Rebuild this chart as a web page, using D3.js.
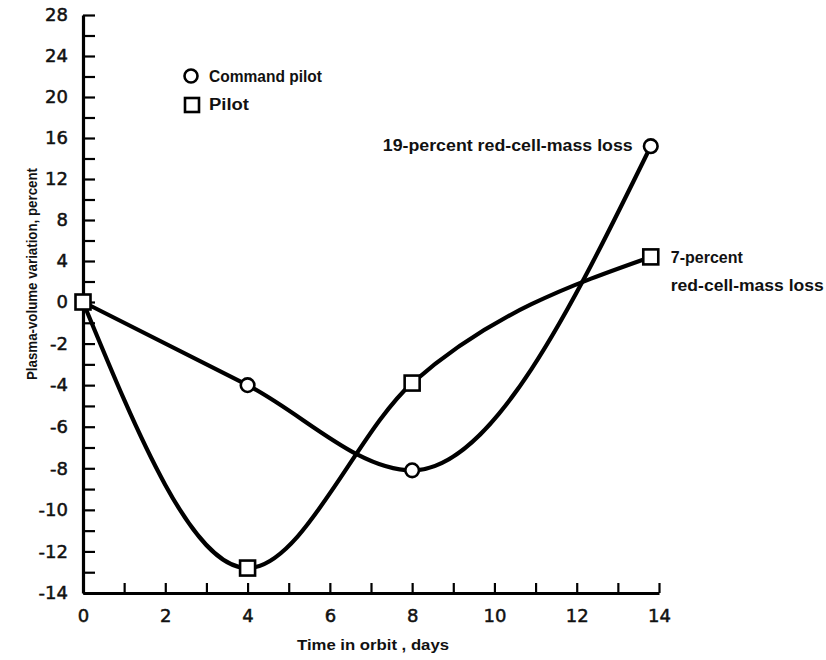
<!DOCTYPE html>
<html>
<head>
<meta charset="utf-8">
<script src="https://cdn.jsdelivr.net/npm/d3@7/dist/d3.min.js"></script>
<style>
  body { margin: 0; background: #fff; }
  svg text { fill: #111; }
  .axis text { font-family: "DejaVu Sans", sans-serif; font-size: 18px; stroke: #111; stroke-width: 0.5px; }
  .note { font-family: "Liberation Sans", sans-serif; font-weight: bold; }
</style>
</head>
<body>
<svg id="chart" width="826" height="660"></svg>
<script>
// values
const days = [0, 4, 8, 13.8];
const commandPilot = [0, -4, -8.1, 15.2];
const pilot = [0, -12.8, -3.9, 4.4];

const seriesNames = ['Command pilot', 'Pilot'];
const notes = ['19-percent red-cell-mass loss', '7-percent', 'red-cell-mass loss'];

const xTicks = [0, 1, 2, 3, 4, 5, 6, 7, 8, 9, 10, 11, 12, 13, 14];
const xLabels = [0, 2, 4, 6, 8, 10, 12, 14];
// upper half of the axis is compressed: ticks every 2 above zero, every 1 below
const yTicks = [28, 26, 24, 22, 20, 18, 16, 14, 12, 10, 8, 6, 4, 2, 0,
                -1, -2, -3, -4, -5, -6, -7, -8, -9, -10, -11, -12, -13, -14];
const yLabels = [28, 24, 20, 16, 12, 8, 4, 0, -2, -4, -6, -8, -10, -12, -14];

const svg = d3.select('#chart');

const x = d3.scaleLinear().domain([0, 14]).range([83, 659]);
const y = d3.scaleLinear().domain([-14, 0, 28]).range([593, 302, 15]);

// axes
const yAxis = d3.axisLeft(y)
    .tickValues(yTicks)
    .tickSizeInner(-12)
    .tickSizeOuter(0)
    .tickPadding(15)
    .tickFormat(d => yLabels.includes(d) ? String(d) : '');

const xAxis = d3.axisBottom(x)
    .tickValues(xTicks)
    .tickSizeInner(-10)
    .tickSizeOuter(0)
    .tickPadding(16)
    .tickFormat(d => xLabels.includes(d) ? String(d) : '');

const gy = svg.append('g').attr('class', 'axis').attr('transform', `translate(${x(0)},0)`).call(yAxis);
const gx = svg.append('g').attr('class', 'axis').attr('transform', `translate(0,${y(-14)})`).call(xAxis);

[gx, gy].forEach(g => {
    g.select('.domain').attr('stroke', '#000').attr('stroke-width', 3.2);
    g.selectAll('.tick line').attr('stroke', '#000').attr('stroke-width', 2.2);
    g.selectAll('.tick text').attr('fill', '#111');
});

// curves
const line = d3.line()
    .x(d => x(d[0]))
    .y(d => y(d[1]))
    .curve(d3.curveMonotoneX);

const cmdPts = days.map((d, i) => [d, commandPilot[i]]);
const pilotPts = days.map((d, i) => [d, pilot[i]]);

[cmdPts, pilotPts].forEach(pts => {
    svg.append('path')
        .attr('d', line(pts))
        .attr('fill', 'none')
        .attr('stroke', '#000')
        .attr('stroke-width', 4.2);
});

// markers
svg.selectAll('.cmd-mark')
    .data(cmdPts)
    .join('circle')
    .attr('class', 'cmd-mark')
    .attr('cx', d => x(d[0]))
    .attr('cy', d => y(d[1]))
    .attr('r', 6.8)
    .attr('fill', '#fff')
    .attr('stroke', '#000')
    .attr('stroke-width', 2.6);

const sq = 15;
svg.selectAll('.pilot-mark')
    .data(pilotPts)
    .join('rect')
    .attr('class', 'pilot-mark')
    .attr('x', d => x(d[0]) - sq / 2)
    .attr('y', d => y(d[1]) - sq / 2)
    .attr('width', sq)
    .attr('height', sq)
    .attr('fill', '#fff')
    .attr('stroke', '#000')
    .attr('stroke-width', 2.6);

// text helper: font size and target width
function note(str, xPos, yPos, size, width, anchor) {
    const t = svg.append('text')
        .attr('class', 'note')
        .attr('x', xPos)
        .attr('y', yPos)
        .attr('text-anchor', anchor || 'start')
        .attr('font-size', size)
        .text(str);
    if (width) t.attr('textLength', width).attr('lengthAdjust', 'spacingAndGlyphs');
    return t;
}

// legend
svg.append('circle')
    .attr('cx', 191).attr('cy', 76).attr('r', 6.5)
    .attr('fill', '#fff').attr('stroke', '#000').attr('stroke-width', 2.6);
svg.append('rect')
    .attr('x', 185).attr('y', 98).attr('width', 14).attr('height', 14)
    .attr('fill', '#fff').attr('stroke', '#000').attr('stroke-width', 2.6);
note(seriesNames[0], 209, 82, 16, 113);
note(seriesNames[1], 209, 110, 16, 40);

// end-point annotations
const last = days.length - 1;
note(notes[0], x(days[last]) - 18, y(commandPilot[last]) + 5, 17, 250, 'end');
note(notes[1], x(days[last]) + 20, y(pilot[last]) + 6, 17, 72);
note(notes[2], x(days[last]) + 20, y(pilot[last]) + 34, 17, 153);

// axis titles
note('Time in orbit , days', 373, 650, 15, 152, 'middle');
svg.append('text')
    .attr('class', 'note')
    .attr('transform', 'translate(37,274) rotate(-90)')
    .attr('text-anchor', 'middle')
    .attr('font-size', 15)
    .attr('textLength', 212)
    .attr('lengthAdjust', 'spacingAndGlyphs')
    .text('Plasma-volume variation, percent');
</script>
</body>
</html>
